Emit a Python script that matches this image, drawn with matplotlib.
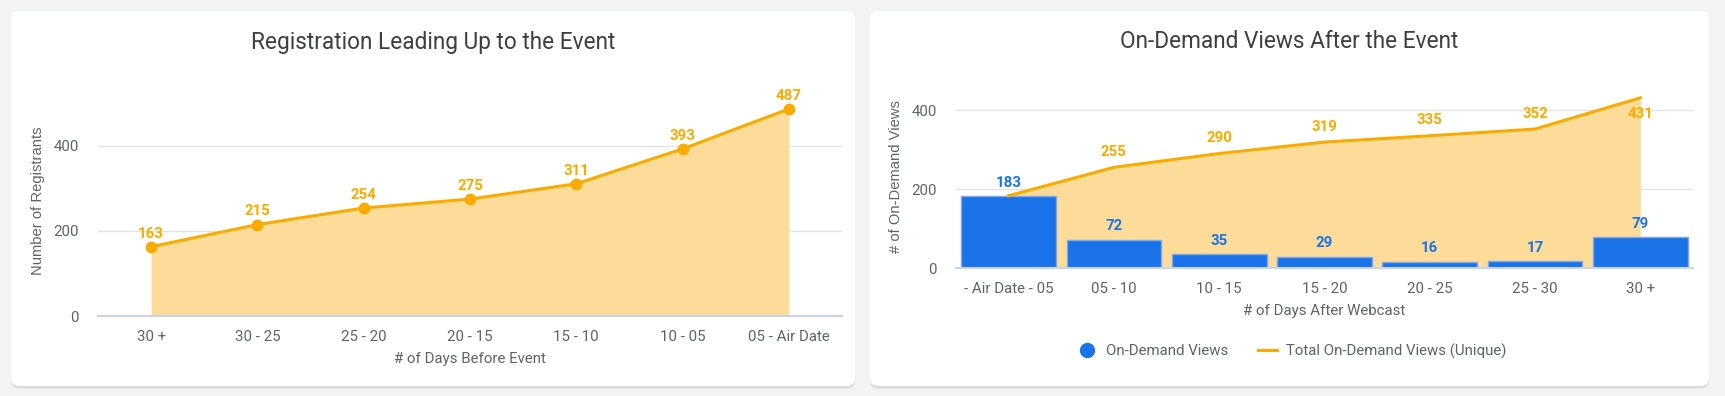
import matplotlib
matplotlib.use("Agg")
import matplotlib.pyplot as plt
from matplotlib.patches import FancyBboxPatch
from matplotlib.lines import Line2D

# registration chart
reg_days = ["30 +", "30 - 25", "25 - 20", "20 - 15", "15 - 10", "10 - 05", "05 - Air Date"]
reg_counts = [163, 215, 254, 275, 311, 393, 487]

# on-demand chart
od_days = ["- Air Date - 05", "05 - 10", "10 - 15", "15 - 20", "20 - 25", "25 - 30", "30 +"]
od_views = [183, 72, 35, 29, 16, 17, 79]
od_total = [183, 255, 290, 319, 335, 352, 431]

ORANGE = "#F9AB00"
FILL = "#FDDC99"
BLUE = "#1A73E8"
TICK_C = "#5F6368"
TITLE_C = "#3C4043"
FS = 10.8

plt.rcParams["font.family"] = ["Roboto", "DejaVu Sans"]

W, H = 1725, 396
fig = plt.figure(figsize=(W / 100, H / 100), dpi=100)
fig.patch.set_facecolor("#F1F3F4")


def px_axes(x0, x1, ybot, ytop):
    # pixel box (top-left origin) -> figure fraction
    return [x0 / W, 1 - ybot / H, (x1 - x0) / W, (ybot - ytop) / H]


def card(x0, x1, y0, y1):
    # soft shadow then the white card, in inches
    for off, a in [(0.03, 0.05), (0.015, 0.06)]:
        sh = FancyBboxPatch((x0 / 100, (H - y1) / 100 - off), (x1 - x0) / 100, (y1 - y0) / 100,
                            boxstyle="round,pad=0,rounding_size=0.08", transform=fig.dpi_scale_trans,
                            facecolor="black", edgecolor="none", alpha=a, zorder=0)
        fig.patches.append(sh)
    p = FancyBboxPatch((x0 / 100, (H - y1) / 100), (x1 - x0) / 100, (y1 - y0) / 100,
                       boxstyle="round,pad=0,rounding_size=0.08", transform=fig.dpi_scale_trans,
                       facecolor="white", edgecolor="none", zorder=0.5)
    fig.patches.append(p)


card(11, 855, 11, 386)
card(870, 1709, 11, 386)


def style_axes(ax, labels, xlabel, ylabel, ymax):
    ax.set_zorder(2)
    ax.set_facecolor("none")
    ax.set_xlim(-0.5, len(labels) - 0.5)
    ax.set_ylim(0, ymax)
    ax.set_yticks([0, 200, 400])
    ax.set_xticks(range(len(labels)))
    ax.set_xticklabels(labels)
    ax.tick_params(length=0, labelsize=FS, colors=TICK_C)
    ax.tick_params(axis="y", pad=14)
    ax.tick_params(axis="x", pad=10)
    for s in ["top", "right", "left"]:
        ax.spines[s].set_visible(False)
    ax.spines["bottom"].set_color("#C6D4EE")
    ax.spines["bottom"].set_linewidth(1.5)
    ax.spines["bottom"].set_zorder(6)
    ax.grid(axis="y", color="#E3E3E3", linewidth=1)
    ax.set_axisbelow(True)
    ax.set_xlabel(xlabel, fontsize=FS, color=TICK_C, labelpad=6)
    ax.set_ylabel(ylabel, fontsize=10.6, color=TICK_C, family="Liberation Sans", labelpad=6)


# ---- left: registration ----
ax1 = fig.add_axes(px_axes(98, 842, 316, 86))
x1 = range(len(reg_days))
style_axes(ax1, reg_days, "# of Days Before Event", "Number of Registrants", 541)
ax1.fill_between(x1, reg_counts, color=FILL, linewidth=0, zorder=2)
ax1.plot(x1, reg_counts, color=ORANGE, linewidth=2.2, marker="o", markersize=7.5, zorder=4)
for xi, v in zip(x1, reg_counts):
    ax1.annotate(str(v), (xi, v), xytext=(0, 9.5), textcoords="offset points", ha="center",
                 va="center", fontsize=FS, fontweight="bold", color=ORANGE, zorder=5)
fig.text(433 / W, 1 - 42 / H, "Registration Leading Up to the Event", ha="center", va="center",
         fontsize=16.3, color=TITLE_C)

# ---- right: on-demand ----
ax2 = fig.add_axes(px_axes(956, 1693, 268, 86))
x2 = list(range(len(od_days)))
style_axes(ax2, od_days, "# of Days After Webcast", "# of On-Demand Views", 461)
ax2.fill_between(x2, od_total, color=FILL, linewidth=0, zorder=2)
ax2.plot(x2, od_total, color=ORANGE, linewidth=2.2, zorder=4)
ax2.bar(x2, od_views, width=0.9, color=BLUE, edgecolor="#7FA8EE", linewidth=1, zorder=3)
for xi, v in zip(x2, od_views):
    ax2.annotate(str(v), (xi, v), xytext=(0, 9.5), textcoords="offset points", ha="center",
                 va="center", fontsize=FS, fontweight="bold", color=BLUE, zorder=5)
for xi, v in zip(x2[1:], od_total[1:]):
    dy = -11.5 if xi == x2[-1] else 11
    ax2.annotate(str(v), (xi, v), xytext=(0, dy), textcoords="offset points", ha="center",
                 va="center", fontsize=FS, fontweight="bold", color=ORANGE, zorder=5)
fig.text(1289 / W, 1 - 42 / H, "On-Demand Views After the Event", ha="center", va="center",
         fontsize=16.3, color=TITLE_C)

handles = [
    Line2D([], [], linestyle="none", marker="o", markersize=10, color=BLUE),
    Line2D([], [], color=ORANGE, linewidth=2.2),
]
fig.legend(handles, ["On-Demand Views", "Total On-Demand Views (Unique)"], loc="center",
           bbox_to_anchor=(1292 / W, 1 - 351 / H), ncol=2, frameon=False, fontsize=FS,
           labelcolor=TICK_C, handlelength=1.3, handletextpad=0.6, columnspacing=2.0)

fig.savefig("out.png", dpi=100, facecolor=fig.get_facecolor())
